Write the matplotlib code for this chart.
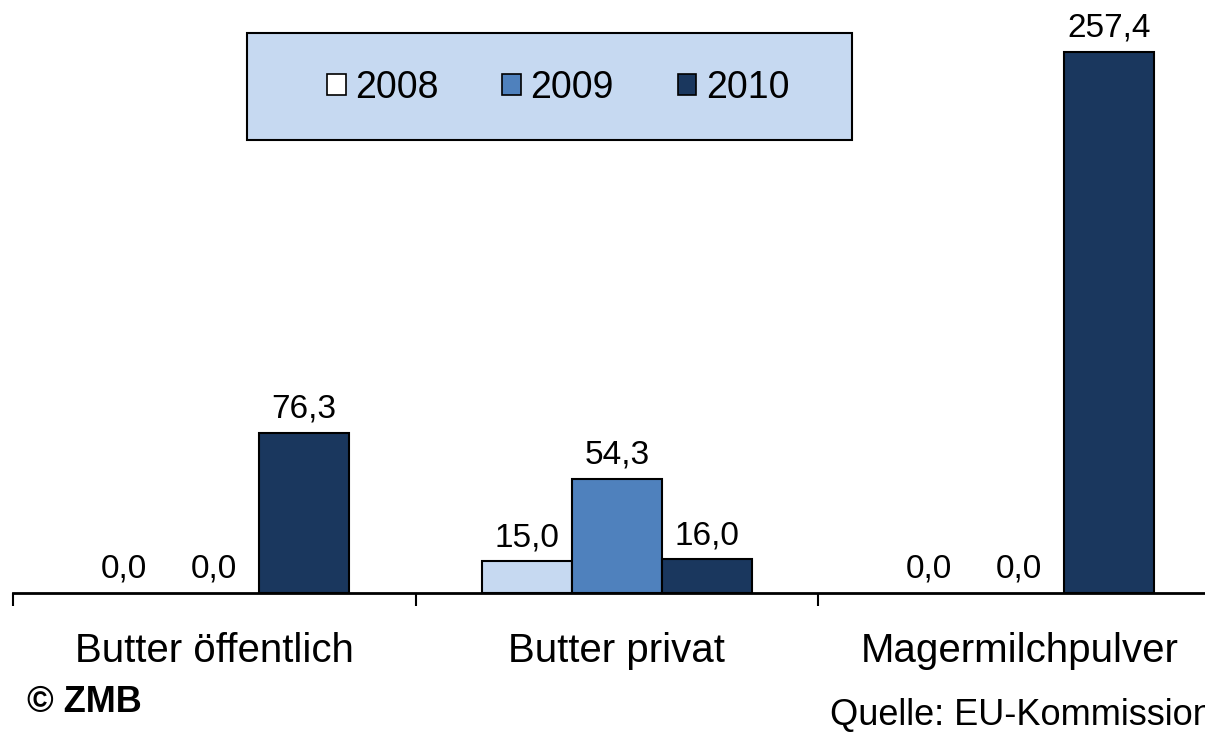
import matplotlib
matplotlib.use("Agg")
import matplotlib.pyplot as plt
from matplotlib.patches import Rectangle, Patch
import numpy as np

plt.rcParams['font.family'] = ['Liberation Sans', 'DejaVu Sans']

categories = ["Butter öffentlich", "Butter privat", "Magermilchpulver"]
years = ["2008", "2009", "2010"]
v2008 = [0.0, 15.0, 0.0]
v2009 = [0.0, 54.3, 0.0]
v2010 = [76.3, 16.0, 257.4]
series = [v2008, v2009, v2010]
colors = ["#C6D9F1", "#4F81BD", "#1A375E"]
legend_colors = ["#FFFFFF", "#4F81BD", "#1A375E"]

W, H = 1205, 734
fig = plt.figure(figsize=(W / 100, H / 100), dpi=100)
ax = fig.add_axes([13 / W, (H - 593) / H, 1207.5 / W, 593 / H])
ax.set_xlim(-0.5, 2.5)
ax.set_ylim(0, 282)

x = np.arange(len(categories))
bw = 0.2236
offsets = [-bw, 0, bw]
for vals, off, c in zip(series, offsets, colors):
    lws = [1.5 if v > 0 else 0 for v in vals]
    bars = ax.bar(x + off, vals, width=bw, color=c, edgecolor="black", linewidth=lws, zorder=2)
    for b, v in zip(bars, vals):
        ax.annotate(f"{v:.1f}".replace(".", ","), (b.get_x() + b.get_width() / 2, v),
                    xytext=(0, 6), textcoords="offset points", ha="center", va="bottom",
                    fontsize=24, color="black")

for s in ["top", "right", "left"]:
    ax.spines[s].set_visible(False)
ax.spines["bottom"].set_linewidth(2)
ax.set_yticks([])
ax.set_xticks([-0.5, 0.5, 1.5, 2.5])
ax.set_xticklabels([])
ax.tick_params(axis="x", direction="out", length=9, width=1.5)
for xi, cat in zip(x, categories):
    ax.text(xi, -0.097, cat, transform=ax.get_xaxis_transform(), ha="center", va="center",
            fontsize=29, color="black")

fig.patches.append(Rectangle((247 / W, (H - 140) / H), (852 - 247) / W, (140 - 33) / H,
                             transform=fig.transFigure, facecolor="#C6D9F1", edgecolor="black",
                             linewidth=1.5, zorder=0))
handles = [Patch(facecolor=c, edgecolor="black", linewidth=1.2) for c in legend_colors]
fig.legend(handles, years, loc="center", bbox_to_anchor=(558 / W, (H - 88) / H), ncol=3,
           frameon=False, fontsize=27, handlelength=0.5, handleheight=0.5, handletextpad=0.25,
           columnspacing=1.7)

fig.text(27 / W, (H - 702) / H, "© ZMB", fontsize=26, fontweight="bold", ha="left", va="center")
fig.text(830 / W, (H - 716) / H, "Quelle: EU-Kommission", fontsize=26, ha="left", va="center")

fig.savefig("out.png", dpi=100)
